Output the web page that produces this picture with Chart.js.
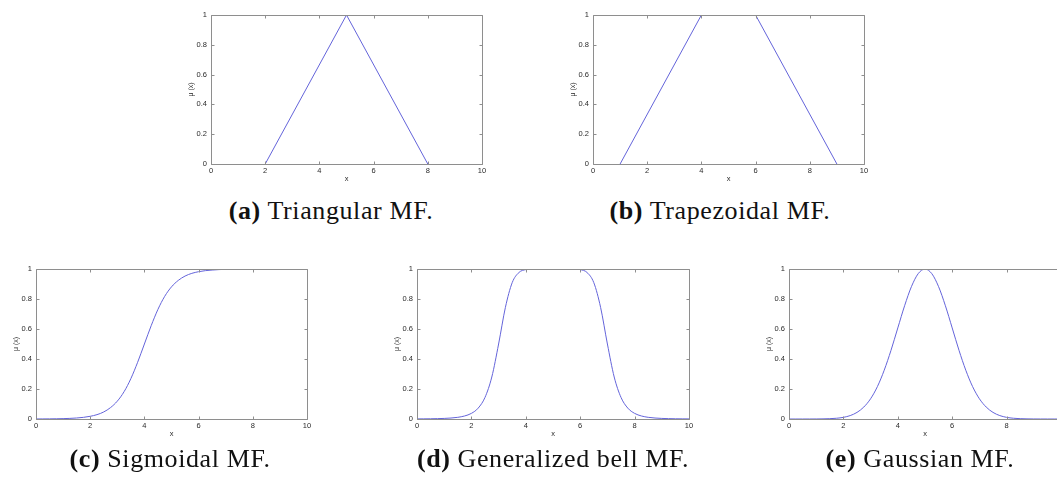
<!DOCTYPE html>
<html>
<head>
<meta charset="utf-8">
<script src="https://cdn.jsdelivr.net/npm/chart.js@4.4.1/dist/chart.umd.min.js"></script>
<style>
  html, body { margin: 0; padding: 0; background: #fff; overflow: hidden; width: 1057px; height: 477px; }
  canvas { position: absolute; }
  .cap { position: absolute; font-family: "Liberation Serif", serif; font-size: 26px; line-height: 26px;
         letter-spacing: 0.6px; color: #111; white-space: nowrap; transform: translateX(-50%); }
  .cap b { font-weight: bold; }
</style>
</head>
<body>
<canvas id="cA" width="321" height="189"></canvas>
<canvas id="cB" width="321" height="189"></canvas>
<canvas id="cC" width="321" height="190"></canvas>
<canvas id="cD" width="322" height="190"></canvas>
<canvas id="cE" width="322" height="190"></canvas>

<div class="cap" style="left:331px; top:198px"><b>(a)</b> Triangular MF.</div>
<div class="cap" style="left:720px; top:198px"><b>(b)</b> Trapezoidal MF.</div>
<div class="cap" style="left:170px; top:446px"><b>(c)</b> Sigmoidal MF.</div>
<div class="cap" style="left:553px; top:446px"><b>(d)</b> Generalized bell MF.</div>
<div class="cap" style="left:920px; top:446px"><b>(e)</b> Gaussian MF.</div>

<script>
// tick labels shared by every panel
var xTicks = [0, 2, 4, 6, 8, 10];
var yTicks = [0, 0.2, 0.4, 0.6, 0.8, 1];

// (a) triangular
var triX = [2, 5, 8];
var triY = [0, 1, 0];

// (b) trapezoidal
var trapX = [1, 4, 6, 9];
var trapY = [0, 1, 1, 0];

// (c) sigmoidal (drawn only up to x = 7)
var sigX = [0, 0.25, 0.5, 0.75, 1, 1.25, 1.5, 1.75, 2, 2.25, 2.5, 2.75, 3, 3.25, 3.5, 3.75,
            4, 4.25, 4.5, 4.75, 5, 5.25, 5.5, 5.75, 6, 6.25, 6.5, 6.75, 7];
var sigY = [0.0003, 0.0006, 0.0009, 0.0015, 0.0025, 0.0041, 0.0067, 0.011, 0.018, 0.029, 0.047, 0.076,
            0.119, 0.182, 0.269, 0.378, 0.5, 0.622, 0.731, 0.818, 0.881, 0.924, 0.953, 0.971,
            0.982, 0.989, 0.993, 0.996, 0.998];

// (d) generalized bell
var bellX = [0, 0.25, 0.5, 0.75, 1, 1.25, 1.5, 1.75, 2, 2.25, 2.5, 2.75, 3, 3.25, 3.5, 3.75, 4, 4.25, 4.5, 4.75,
             5, 5.25, 5.5, 5.75, 6, 6.25, 6.5, 6.75, 7, 7.25, 7.5, 7.75, 8, 8.25, 8.5, 8.75, 9, 9.25, 9.5, 9.75, 10];
var bellY = [0.0007, 0.001, 0.0015, 0.0024, 0.0039, 0.0065, 0.0112, 0.0202, 0.0376, 0.0726, 0.144, 0.28,
             0.5, 0.744, 0.909, 0.977, 0.996, 1, 1, 1, 1, 1, 1, 1, 0.996, 0.977, 0.909, 0.744, 0.5,
             0.28, 0.144, 0.0726, 0.0376, 0.0202, 0.0112, 0.0065, 0.0039, 0.0024, 0.0015, 0.001, 0.0007];

// (e) gaussian
var gaussX = bellX.slice();
var gaussY = [0, 0, 0, 0.0001, 0.0003, 0.0009, 0.0022, 0.0051, 0.011, 0.0228, 0.044, 0.0796, 0.135,
              0.216, 0.325, 0.458, 0.607, 0.755, 0.882, 0.969, 1, 0.969, 0.882, 0.755, 0.607, 0.458,
              0.325, 0.216, 0.135, 0.0796, 0.044, 0.0228, 0.011, 0.0051, 0.0022, 0.0009, 0.0003,
              0.0001, 0, 0, 0];

var frameColor = '#8e8e8e';
var lineColor = '#6464da';
var textColor = '#2a2a2a';

// matlab style box with inward tick marks on all four sides
var boxTicks = {
  id: 'boxTicks',
  afterDatasetsDraw: function(chart) {
    var ctx = chart.ctx, a = chart.chartArea;
    var sx = chart.scales.x, sy = chart.scales.y;
    var L = Math.round(a.left) + 0.5, R = Math.round(a.right) + 0.5;
    var T = Math.round(a.top) + 0.5, B = Math.round(a.bottom) + 0.5;
    ctx.save();
    ctx.strokeStyle = frameColor;
    ctx.lineWidth = 1;
    ctx.beginPath();
    ctx.rect(L, T, R - L, B - T);
    xTicks.forEach(function(v) {
      var px = Math.round(sx.getPixelForValue(v)) + 0.5;
      ctx.moveTo(px, T); ctx.lineTo(px, T + 3);
      ctx.moveTo(px, B); ctx.lineTo(px, B - 3);
    });
    yTicks.forEach(function(v) {
      var py = Math.round(sy.getPixelForValue(v)) + 0.5;
      ctx.moveTo(L, py); ctx.lineTo(L + 3, py);
      ctx.moveTo(R, py); ctx.lineTo(R - 3, py);
    });
    ctx.stroke();
    ctx.restore();
  }
};

function mf(id, left, top, xs, ys, smooth) {
  var c = document.getElementById(id);
  c.style.left = (left - 40) + 'px';
  c.style.top = (top - 10) + 'px';
  var pts = xs.map(function(x, i) { return {x: x, y: ys[i]}; });
  var tickFont = {family: '"Liberation Sans", Arial, sans-serif', size: 7.5};
  return new Chart(c.getContext('2d'), {
    type: 'line',
    data: {
      datasets: [{
        data: pts,
        borderColor: lineColor,
        borderWidth: 1,
        pointRadius: 0,
        fill: false,
        clip: {left: 2, top: 0, right: 2, bottom: 2},
        tension: 0,
        cubicInterpolationMode: smooth ? 'monotone' : 'default'
      }]
    },
    options: {
      responsive: false,
      animation: false,
      layout: {padding: {top: 10, right: 10, left: 0, bottom: 0}},
      plugins: {legend: {display: false}, tooltip: {enabled: false}},
      scales: {
        x: {
          type: 'linear', min: 0, max: 10,
          afterFit: function(s) { s.height = 30; },
          afterBuildTicks: function(s) { s.ticks = xTicks.map(function(v) { return {value: v}; }); },
          grid: {display: false, drawTicks: false},
          border: {display: false},
          ticks: {padding: 2, color: textColor, font: tickFont, maxRotation: 0,
                  callback: function(v) { return String(v); }},
          title: {display: true, text: 'x', color: textColor, font: tickFont, padding: {top: 0, bottom: 11}}
        },
        y: {
          type: 'linear', min: 0, max: 1,
          afterFit: function(s) { s.width = 40; },
          afterBuildTicks: function(s) { s.ticks = yTicks.map(function(v) { return {value: v}; }); },
          grid: {display: false, drawTicks: false},
          border: {display: false},
          ticks: {padding: 4, color: textColor, font: tickFont,
                  callback: function(v) { return String(Math.round(v * 10) / 10); }},
          title: {display: true, text: 'μ (x)', color: textColor, font: {family: tickFont.family, size: 7}, padding: {top: 16, bottom: 0}}
        }
      }
    },
    plugins: [boxTicks]
  });
}

mf('cA', 211, 15, triX, triY, false);
mf('cB', 593, 15, trapX, trapY, false);
mf('cC', 36, 269, sigX, sigY, true);
mf('cD', 417, 269, bellX, bellY, true);
mf('cE', 789, 269, gaussX, gaussY, true);
</script>
</body>
</html>
